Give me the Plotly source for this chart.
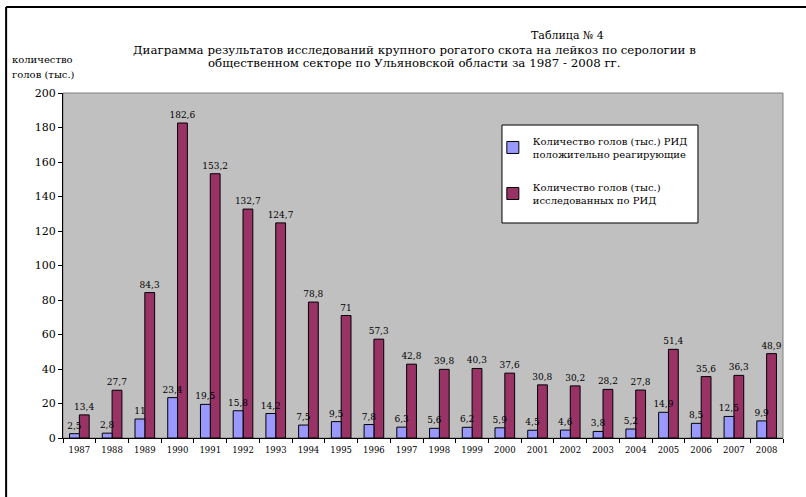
import plotly.graph_objects as go

years = [str(y) for y in range(1987, 2009)]
positive = [2.5, 2.8, 11, 23.4, 19.5, 15.8, 14.2, 7.5, 9.5, 7.8, 6.3, 5.6, 6.2, 5.9, 4.5, 4.6, 3.8, 5.2, 14.9, 8.5, 12.5, 9.9]
examined = [13.4, 27.7, 84.3, 182.6, 153.2, 132.7, 124.7, 78.8, 71, 57.3, 42.8, 39.8, 40.3, 37.6, 30.8, 30.2, 28.2, 27.8, 51.4, 35.6, 36.3, 48.9]
name_pos = "Количество голов (тыс.) РИД<br>положительно реагирующие"
name_exa = "Количество голов (тыс.)<br>исследованных по РИД"

def fmt(vals):
    return [f"{v:g}".replace(".", ",") for v in vals]

F = "DejaVu Serif"

fig = go.Figure()
# red drawn first so the blue labels sit on top of the red bars
fig.add_trace(go.Bar(x=years, y=examined, name=name_exa, text=fmt(examined),
                     textposition="outside", constraintext="none", cliponaxis=False,
                     width=0.3, offset=0,
                     textfont=dict(family=F, size=9, color="black"),
                     marker=dict(color="#993366", line=dict(color="black", width=1)),
                     legendgroup="b", legendrank=2))
fig.add_trace(go.Bar(x=years, y=positive, name=name_pos, text=fmt(positive),
                     textposition="outside", constraintext="none", cliponaxis=False,
                     width=0.3, offset=-0.3,
                     textfont=dict(family=F, size=9, color="black"),
                     marker=dict(color="#9999FF", line=dict(color="black", width=1)),
                     legendgroup="a", legendrank=1))

fig.update_layout(
    width=806, height=497,
    margin=dict(l=63, r=23, t=93, b=59),
    paper_bgcolor="white", plot_bgcolor="#C0C0C0",
    barmode="overlay",
    font=dict(family=F, color="black"),
    legend=dict(x=0.597, y=0.8986, xanchor="left", yanchor="top",
                traceorder="grouped", tracegroupgap=17,
                bgcolor="rgba(0,0,0,0)", borderwidth=0,
                font=dict(family=F, size=10)),
    xaxis=dict(showline=True, linecolor="black", linewidth=1, ticks="outside",
               ticklen=4, tickcolor="black", tickson="boundaries",
               ticklabelstandoff=4,
               tickfont=dict(family=F, size=8.5), showgrid=False),
    yaxis=dict(range=[0, 200], dtick=20, showline=True, linecolor="black", linewidth=1,
               ticks="outside", ticklen=4, tickcolor="black", showgrid=False,
               zeroline=False, tickfont=dict(family=F, size=11)),
    shapes=[
        dict(type="rect", xref="paper", yref="paper", x0=0, x1=1, y0=0, y1=1,
             line=dict(color="#808080", width=1), layer="below"),
        # legend box
        dict(type="rect", xref="paper", yref="paper", x0=0.6097, x1=0.8819, y0=0.6232, y1=0.9072,
             fillcolor="white", line=dict(color="black", width=1), layer="above"),
        # outer frame (top and left edges visible)
        dict(type="line", xref="paper", yref="paper", x0=-0.079, x1=2, y0=1.2493, y1=1.2493,
             line=dict(color="black", width=2)),
        dict(type="line", xref="paper", yref="paper", x0=-0.079, x1=-0.079, y0=-1, y1=1.2493,
             line=dict(color="black", width=2)),
    ],
    annotations=[
        dict(text="Таблица № 4", x=0.70, y=1.168, xref="paper", yref="paper",
             showarrow=False, font=dict(size=11), xanchor="center", yanchor="middle"),
        dict(text="Диаграмма результатов исследований крупного рогатого скота на лейкоз по серологии в",
             x=0.4875, y=1.1246, xref="paper", yref="paper", showarrow=False,
             font=dict(size=11.8), xanchor="center", yanchor="middle"),
        dict(text="общественном секторе по Ульяновской области за 1987 - 2008 гг.",
             x=0.4875, y=1.087, xref="paper", yref="paper", showarrow=False,
             font=dict(size=11.8), xanchor="center", yanchor="middle"),
        dict(text="количество", x=-0.0736, y=1.0957, xref="paper", yref="paper",
             showarrow=False, font=dict(size=10), xanchor="left", yanchor="middle"),
        dict(text="голов (тыс.)", x=-0.0736, y=1.055, xref="paper", yref="paper",
             showarrow=False, font=dict(size=10), xanchor="left", yanchor="middle"),
    ],
)

fig.write_html("out.html", config={"displayModeBar": False},
               post_script="document.body.style.margin='0';document.body.style.overflow='hidden';")
